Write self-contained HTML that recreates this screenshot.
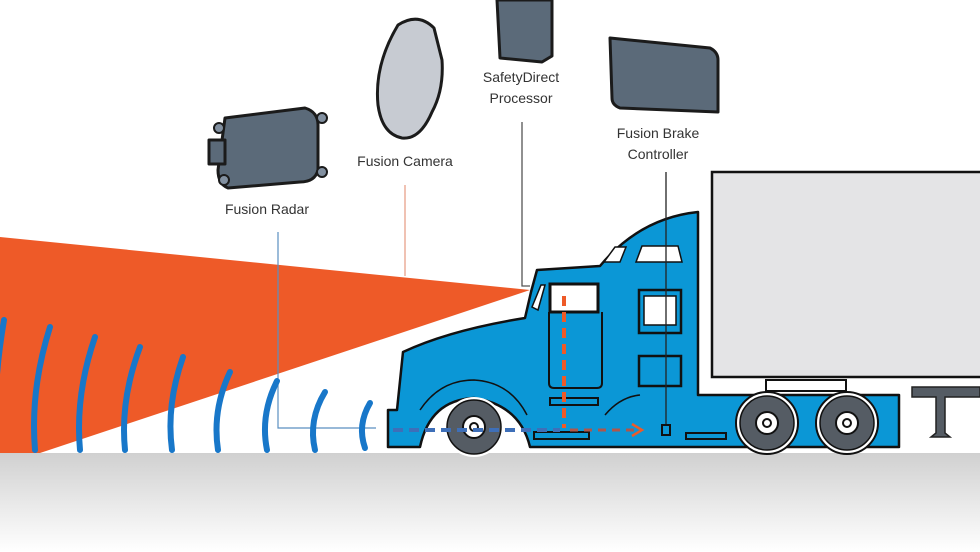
<!DOCTYPE html>
<html><head><meta charset="utf-8"><style>
html,body{margin:0;padding:0;background:#fff;}
svg{display:block;}
text{font-family:"Liberation Sans",sans-serif;font-size:14px;fill:#333;}
</style></head><body>
<svg width="980" height="552" viewBox="0 0 980 552" xmlns="http://www.w3.org/2000/svg">
<defs>
<linearGradient id="g" x1="0" y1="0" x2="0" y2="1">
<stop offset="0" stop-color="#d0d0d0"/><stop offset="0.5" stop-color="#e8e8e8"/><stop offset="1" stop-color="#ffffff"/>
</linearGradient>
</defs>
<rect x="0" y="453" width="980" height="99" fill="url(#g)"/>
<polygon points="0,237 530,290 40,453 0,453" fill="#ee5a28"/>
<polyline points="278,232 278,428 376,428" fill="none" stroke="#5a8fc0" stroke-width="1.2"/>
<line x1="405" y1="185" x2="405" y2="276" stroke="#e8a08a" stroke-width="1.3"/>
<polyline points="522,122 522,286 530,286" fill="none" stroke="#555" stroke-width="1.3"/>
<g fill="none" stroke="#1877c9" stroke-width="6" stroke-linecap="round">
<path d="M4,320 Q-8,390 -4,452"/>
<path d="M50,327 Q30,390 35,450"/>
<path d="M95,337 Q75,395 80,450"/>
<path d="M140,347 Q120,400 125,450"/>
<path d="M183,357 Q166,405 172,450"/>
<path d="M230,372 Q212,410 218,450"/>
<path d="M277,381 Q260,415 267,450"/>
<path d="M325,392 Q308,420 315,450"/>
<path d="M370,403 Q357,425 365,448"/>
</g>
<rect x="712" y="172" width="275" height="205" fill="#e4e4e6" stroke="#111" stroke-width="2.5"/>
<rect x="766" y="380" width="80" height="11" fill="#fff" stroke="#111" stroke-width="2"/>
<path d="M912,387 L980,387 L980,397 L945,397 L945,433 L950,437 L931,437 L936,433 L936,397 L912,397 Z" fill="#555c64" stroke="#222" stroke-width="1.5"/>
<path d="M388,447 L388,410 L397,410 L403,352 Q450,330 525,318 L531,292 L537,270 L600,266 Q640,218 698,212 L698,395 L899,395 L899,447 L530,447 Q520,405 474,398 Q430,400 420,447 Z" fill="#0b97d6" stroke="#111" stroke-width="2.5" stroke-linejoin="round"/>
<path d="M532,307 L541,285 L545,285 L538,310 Z" fill="#fff" stroke="#111" stroke-width="1.5"/>
<rect x="550" y="284" width="48" height="28" fill="#fff" stroke="#111" stroke-width="3"/>
<path d="M604,262 L615,247 L626,247 L620,262 Z" fill="#fff" stroke="#111" stroke-width="1.5"/>
<path d="M636,262 L642,246 L678,246 L682,262 Z" fill="#fff" stroke="#111" stroke-width="1.5"/>
<rect x="639" y="290" width="42" height="43" fill="none" stroke="#111" stroke-width="2.5"/>
<rect x="644" y="296" width="32" height="29" fill="#fff" stroke="#111" stroke-width="1.5"/>
<rect x="639" y="356" width="42" height="30" fill="none" stroke="#111" stroke-width="2.5"/>
<path d="M549,312 L549,383 Q549,388 554,388 L597,388 Q602,388 602,383 L602,312" fill="none" stroke="#111" stroke-width="2"/>
<rect x="550" y="398" width="48" height="7" fill="none" stroke="#111" stroke-width="2"/>
<rect x="534" y="432" width="55" height="7" fill="none" stroke="#111" stroke-width="2"/>
<rect x="686" y="433" width="40" height="6" fill="none" stroke="#111" stroke-width="2"/>
<path d="M420,410 Q440,380 474,380 Q510,382 527,415" fill="none" stroke="#111" stroke-width="1.5"/>
<path d="M605,415 Q620,397 640,395" fill="none" stroke="#111" stroke-width="1.5"/>
<g stroke="#111" stroke-width="2">
<circle cx="474" cy="427" r="30" fill="#fff" stroke="none"/>
<circle cx="767" cy="423" r="31" fill="#fff"/>
<circle cx="847" cy="423" r="31" fill="#fff"/>
</g>
<g fill="#555c64" stroke="#111" stroke-width="1.5">
<circle cx="474" cy="427" r="27"/>
<circle cx="767" cy="423" r="27"/>
<circle cx="847" cy="423" r="27"/>
</g>
<g fill="#fff" stroke="#111" stroke-width="2">
<circle cx="474" cy="427" r="11"/><circle cx="474" cy="427" r="4"/>
<circle cx="767" cy="423" r="11"/><circle cx="767" cy="423" r="4"/>
<circle cx="847" cy="423" r="11"/><circle cx="847" cy="423" r="4"/>
</g>
<line x1="393" y1="430" x2="560" y2="430" stroke="#3e6fb8" stroke-width="4" stroke-dasharray="10,6"/>
<line x1="564" y1="296" x2="564" y2="428" stroke="#ee5a28" stroke-width="4" stroke-dasharray="10,6"/>
<line x1="570" y1="430" x2="640" y2="430" stroke="#b0564a" stroke-width="3" stroke-dasharray="8,6"/>
<polyline points="632,424 642,430 632,436" fill="none" stroke="#ee5a28" stroke-width="2.5"/>
<line x1="666" y1="172" x2="666" y2="425" stroke="#222" stroke-width="1.3"/>
<rect x="662" y="425" width="8" height="10" fill="none" stroke="#111" stroke-width="2"/>
<g stroke="#1b1b1b" stroke-width="3" stroke-linejoin="round">
<path d="M225,118 L305,108 Q318,112 318,125 L318,170 Q315,182 300,182 L228,188 Q218,184 218,170 Z" fill="#5b6a79"/>
<rect x="209" y="140" width="16" height="24" fill="#5b6a79"/>
<path d="M398,25 Q418,12 434,28 L442,60 Q444,90 432,112 Q420,140 402,138 Q382,134 378,105 Q374,65 398,25 Z" fill="#c7cbd2"/>
<path d="M497,0 L552,0 L552,56 L542,62 L500,58 Z" fill="#5b6a79"/>
<path d="M610,38 L710,48 Q718,52 718,60 L718,112 L620,108 Q612,105 612,98 Z" fill="#5b6a79"/>
</g>
<g stroke="#1b1b1b" stroke-width="2" fill="#8290a0">
<circle cx="219" cy="128" r="5"/><circle cx="322" cy="118" r="5"/><circle cx="322" cy="172" r="5"/><circle cx="224" cy="180" r="5"/>
</g>
<text x="267" y="214" text-anchor="middle">Fusion Radar</text>
<text x="405" y="166" text-anchor="middle">Fusion Camera</text>
<text x="521" y="82" text-anchor="middle">SafetyDirect</text>
<text x="521" y="103" text-anchor="middle">Processor</text>
<text x="658" y="138" text-anchor="middle">Fusion Brake</text>
<text x="658" y="159" text-anchor="middle">Controller</text>
</svg>
</body></html>
